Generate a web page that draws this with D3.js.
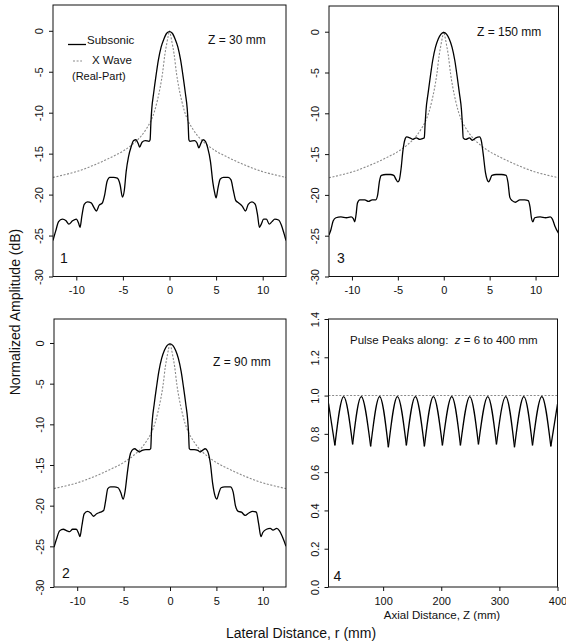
<!DOCTYPE html>
<html><head><meta charset="utf-8">
<script src="https://cdn.jsdelivr.net/npm/d3@7"></script>
<style>
body{margin:0;background:#fff}
svg{display:block}
text{font-family:"Liberation Sans",Arial,Helvetica,sans-serif;fill:#111;white-space:pre}
</style>
</head><body>
<svg id="c" width="566" height="641"></svg>
<script>
// ---------------- DATA ----------------
const lateralTicks = [-10, -5, 0, 5, 10];
const dbTicks = [0, -5, -10, -15, -20, -25, -30];
const axialTicks = [100, 200, 300, 400];
const ampTicks = [0, 0.2, 0.4, 0.6, 0.8, 1.0, 1.2, 1.4];

const panelLabels = ["1", "2", "3", "4"];
const depthLabels = ["Z = 30 mm", "Z = 90 mm", "Z = 150 mm"];

// X wave (real part), same in panels 1-3
const xWaveR  = [-12.5,-11,-10,-9,-8,-7,-6,-5,-4,-3.5,-3,-2.5,-2,-1.6,-1.3,-1.0,-0.75,-0.5,-0.3,-0.15,0,
                  0.15,0.3,0.5,0.75,1.0,1.3,1.6,2,2.5,3,3.5,4,5,6,7,8,9,10,11,12.5];
const xWaveDb = [-17.9,-17.5,-17.2,-16.8,-16.35,-15.85,-15.3,-14.7,-13.9,-13.4,-12.8,-12.0,-11.0,-9.8,-8.5,-6.9,-5.2,-2.9,-1.6,-0.7,0,
                 -0.7,-1.6,-2.9,-5.2,-6.9,-8.5,-9.8,-11.0,-12.0,-12.8,-13.4,-13.9,-14.7,-15.3,-15.85,-16.35,-16.8,-17.2,-17.5,-17.9];

// Subsonic, Z = 30 mm
const sub30R  = [-12.5,-12.2,-11.9,-11.5,-11.1,-10.8,-10.4,-10.0,-9.75,-9.6,-9.4,-9.15,-8.8,-8.4,-8.1,-7.85,-7.55,-7.2,-6.95,-6.7,-6.4,-6.0,-5.6,-5.3,-5.05,-4.85,-4.65,-4.4,-4.1,-3.85,-3.6,-3.35,-3.2,-2.95,-2.6,-2.2,-2.08,-2.0,-1.9,-1.7,-1.45,-1.2,-0.9,-0.6,-0.3,0,
                 0.3,0.6,0.9,1.2,1.45,1.7,1.9,2.0,2.08,2.2,2.7,2.95,3.15,3.35,3.6,3.85,4.1,4.4,4.65,4.85,5.0,5.2,5.45,5.8,6.3,6.6,6.85,7.1,7.4,7.8,8.15,8.45,8.85,9.2,9.45,9.65,9.85,10.1,10.4,10.7,11.0,11.3,11.7,12.0,12.3,12.5];
const sub30Db = [-25.6,-24.4,-23.3,-23.0,-23.2,-23.6,-23.2,-23.0,-23.5,-24.0,-22.6,-21.2,-20.9,-21.0,-21.6,-22.0,-21.3,-21.0,-20.0,-18.4,-17.9,-17.9,-18.0,-18.8,-20.3,-19.5,-17.2,-15.4,-14.1,-13.4,-13.3,-13.8,-14.2,-13.6,-13.4,-13.5,-13.3,-11.3,-9.5,-7.6,-5.5,-3.6,-2.0,-1.0,-0.3,-0.1,
                 -0.3,-1.0,-2.0,-3.6,-5.5,-7.6,-9.5,-11.3,-13.3,-13.5,-13.4,-13.7,-14.3,-13.8,-13.3,-13.5,-14.3,-16.0,-18.5,-19.8,-20.4,-19.2,-18.1,-17.9,-17.9,-18.2,-19.5,-20.7,-21.0,-21.4,-22.0,-21.2,-20.9,-21.2,-22.5,-24.0,-23.6,-23.0,-23.0,-23.6,-23.3,-23.0,-23.1,-23.7,-24.8,-25.6];

// Subsonic, Z = 90 mm
const sub90R  = [-12.5,-12.2,-11.9,-11.5,-11.1,-10.8,-10.5,-10.1,-9.85,-9.7,-9.5,-9.25,-8.9,-8.55,-8.25,-7.9,-7.5,-7.15,-6.95,-6.7,-6.4,-6.0,-5.6,-5.3,-5.05,-4.85,-4.6,-4.35,-4.1,-3.8,-3.55,-3.3,-3.0,-2.6,-2.2,-2.08,-2.0,-1.9,-1.7,-1.45,-1.2,-0.9,-0.6,-0.3,0,
                 0.3,0.6,0.9,1.2,1.45,1.7,1.9,2.0,2.08,2.2,2.6,3.0,3.25,3.5,3.8,4.05,4.35,4.6,4.85,5.05,5.25,5.5,5.9,6.5,6.8,7.05,7.35,7.7,8.1,8.5,8.9,9.3,9.55,9.8,10.0,10.4,10.8,11.1,11.5,11.8,12.1,12.5];
const sub90Db = [-25.1,-24.0,-23.1,-22.9,-23.1,-23.2,-22.9,-22.9,-23.4,-23.8,-22.5,-21.0,-20.7,-20.9,-21.3,-21.0,-20.8,-20.6,-19.5,-17.9,-17.7,-17.7,-17.8,-18.4,-19.2,-18.3,-16.0,-14.0,-13.2,-13.0,-13.2,-13.4,-13.2,-13.1,-13.1,-13.0,-11.0,-9.4,-7.5,-5.4,-3.5,-1.9,-0.9,-0.3,-0.1,
                 -0.3,-0.9,-1.9,-3.5,-5.4,-7.5,-9.4,-11.0,-13.0,-13.1,-13.1,-13.2,-13.4,-13.2,-13.0,-13.3,-14.8,-17.3,-18.8,-19.2,-18.5,-17.8,-17.7,-17.7,-18.3,-20.0,-20.7,-20.8,-21.2,-20.9,-20.7,-20.8,-22.2,-23.8,-23.3,-22.9,-22.8,-23.0,-22.8,-23.1,-23.8,-25.0];

// Subsonic, Z = 150 mm
const sub150R  = [-12.5,-12.3,-12.05,-11.75,-11.2,-10.6,-10.1,-9.85,-9.7,-9.55,-9.4,-9.15,-8.6,-8.2,-7.8,-7.4,-7.2,-7.0,-6.8,-6.3,-5.8,-5.45,-5.2,-5.0,-4.85,-4.65,-4.45,-4.25,-4.05,-3.7,-3.35,-3.0,-2.6,-2.3,-2.12,-2.03,-1.93,-1.7,-1.45,-1.2,-0.9,-0.6,-0.3,0,
                  0.3,0.6,0.9,1.2,1.45,1.7,1.93,2.03,2.12,2.4,2.8,3.1,3.5,3.9,4.1,4.3,4.55,4.75,4.9,5.05,5.25,5.7,6.3,6.8,7.0,7.2,7.45,7.8,8.3,8.8,9.2,9.4,9.55,9.7,9.9,10.5,11.1,11.6,11.85,12.1,12.5];
const sub150Db = [-24.9,-24.3,-23.2,-22.8,-22.7,-22.8,-22.7,-22.9,-23.3,-22.4,-21.0,-20.6,-20.6,-20.8,-20.6,-20.6,-20.0,-18.3,-17.6,-17.5,-17.5,-17.6,-18.1,-18.4,-18.2,-16.8,-14.6,-13.3,-12.9,-13.0,-13.2,-13.0,-13.2,-13.1,-13.0,-11.3,-9.6,-7.5,-5.4,-3.5,-1.9,-0.9,-0.3,-0.1,
                  -0.3,-0.9,-1.9,-3.5,-5.4,-7.5,-9.6,-11.3,-13.0,-13.2,-13.0,-13.3,-13.0,-12.9,-13.4,-15.0,-17.3,-18.2,-18.4,-18.1,-17.6,-17.5,-17.5,-17.6,-18.5,-20.3,-20.7,-20.9,-20.6,-20.6,-20.7,-21.5,-22.8,-23.3,-22.8,-22.7,-22.8,-22.7,-23.0,-23.8,-24.7];

// Pulse peaks along z = 6 to 400 mm
const pulseTroughZ   = [17, 47.5, 78.5, 109, 140, 171, 202, 233, 264, 295, 326, 357, 388.5];
const pulseTroughAmp = [0.74, 0.745, 0.735, 0.73, 0.74, 0.735, 0.74, 0.74, 0.745, 0.745, 0.73, 0.74, 0.735];
const pulsePeakZ     = [32, 62.5, 94, 124.5, 155.5, 186.5, 218, 249, 280, 311, 342, 373];
const pulsePeakAmp   = [0.995, 0.995, 0.995, 0.995, 0.995, 0.995, 0.995, 0.995, 0.995, 0.995, 0.995, 0.995];
const pulseEdgeZ     = [6, 400];
const pulseEdgeAmp   = [0.96, 0.955];
const xWaveAxialZ    = [6, 400];
const xWaveAxialAmp  = [1.0, 1.0];

// ---------------- DRAWING ----------------
const svg = d3.select("#c");
const DOT = {stroke: "#8a8a8a", dash: "2,1.6", w: 1.1};
const fmtDb = d => String(d);
const fmtAmp = d => d.toFixed(1);

let clipId = 0;
function panel(c) {
  const x = d3.scaleLinear().domain(c.xDomain).range([c.left, c.right]);
  const y = d3.scaleLinear().domain(c.yDomain).range([c.bottom, c.top]);
  const g = svg.append("g");
  const xa = g.append("g").attr("transform", `translate(0,${c.bottom})`)
    .call(d3.axisBottom(x).tickValues(c.xTicks).tickFormat(c.xFmt).tickSize(4).tickSizeOuter(0).tickPadding(6));
  const ya = g.append("g").attr("transform", `translate(${c.left},0)`)
    .call(d3.axisLeft(y).tickValues(c.yTicks).tickFormat(c.yFmt).tickSize(4).tickSizeOuter(0));
  [xa, ya].forEach(a => {
    a.select(".domain").remove();
    a.selectAll("line").attr("stroke", "#111");
    a.selectAll("text").attr("font-size", 11).attr("font-family", '"Liberation Sans",Arial,sans-serif').attr("fill", "#111");
  });
  ya.selectAll("text")
    .attr("transform", "rotate(-90)")
    .attr("x", 0).attr("y", -10).attr("dy", null)
    .attr("text-anchor", "middle");
  const id = "clip" + (clipId++);
  svg.append("clipPath").attr("id", id).append("rect")
    .attr("x", c.left).attr("y", c.top).attr("width", c.right - c.left).attr("height", c.bottom - c.top);
  const plot = g.append("g").attr("clip-path", `url(#${id})`);
  g.append("rect").attr("x", c.left).attr("y", c.top)
    .attr("width", c.right - c.left).attr("height", c.bottom - c.top)
    .attr("fill", "none").attr("stroke", "#111").attr("stroke-width", 1);
  return {g, plot, x, y};
}

function drawLateral(p, subR, subDb) {
  const line = d3.line().x(d => p.x(d[0])).y(d => p.y(d[1])).curve(d3.curveMonotoneX);
  p.plot.append("path").datum(d3.zip(xWaveR, xWaveDb)).attr("d", line)
    .attr("fill", "none").attr("stroke", DOT.stroke).attr("stroke-width", DOT.w).attr("stroke-dasharray", DOT.dash);
  p.plot.append("path").datum(d3.zip(subR, subDb)).attr("d", line)
    .attr("fill", "none").attr("stroke", "#000").attr("stroke-width", 1.3).attr("stroke-linejoin", "round");
}

function txt(x, y, s, size, anchor) {
  return svg.append("text").attr("x", x).attr("y", y).attr("font-size", size)
    .attr("text-anchor", anchor || "start").text(s);
}

const latCfg = {xDomain: [-12.5, 12.5], yDomain: [-30, 3.15], xTicks: lateralTicks, yTicks: dbTicks, xFmt: fmtDb, yFmt: fmtDb};

const p1 = panel(Object.assign({left: 53, right: 286, top: 5, bottom: 276.5}, latCfg));
drawLateral(p1, sub30R, sub30Db);
const p3 = panel(Object.assign({left: 329, right: 558.5, top: 6, bottom: 276.5}, latCfg));
drawLateral(p3, sub150R, sub150Db);
const p2 = panel(Object.assign({left: 54, right: 286, top: 319, bottom: 587}, latCfg, {yDomain: [-30, 2.95]}));
drawLateral(p2, sub90R, sub90Db);
const p4 = panel({left: 328.5, right: 557.5, top: 319, bottom: 587, xDomain: [6, 400], yDomain: [0, 1.4],
  xTicks: axialTicks, yTicks: ampTicks, xFmt: d => String(d), yFmt: fmtAmp});
p4.plot.append("path").datum(d3.zip(xWaveAxialZ, xWaveAxialAmp))
  .attr("d", d3.line().x(d => p4.x(d[0])).y(d => p4.y(d[1])))
  .attr("fill", "none").attr("stroke", DOT.stroke).attr("stroke-width", DOT.w).attr("stroke-dasharray", DOT.dash);
{
  const arch = d3.line().x(d => p4.x(d[0])).y(d => p4.y(d[1])).curve(d3.curveNatural);
  const segs = [];
  segs.push([[pulseEdgeZ[0], pulseEdgeAmp[0]], [pulseTroughZ[0], pulseTroughAmp[0]]]);
  for (let i = 0; i < pulsePeakZ.length; i++) {
    segs.push([[pulseTroughZ[i], pulseTroughAmp[i]], [pulsePeakZ[i], pulsePeakAmp[i]], [pulseTroughZ[i + 1], pulseTroughAmp[i + 1]]]);
  }
  const last = pulseTroughZ.length - 1;
  segs.push([[pulseTroughZ[last], pulseTroughAmp[last]], [pulseEdgeZ[1], pulseEdgeAmp[1]]]);
  p4.plot.selectAll("path.arch").data(segs).join("path").attr("class", "arch")
    .attr("d", arch).attr("fill", "none").attr("stroke", "#000").attr("stroke-width", 1.3);
}

// legend (panel 1)
svg.append("line").attr("x1", 68).attr("x2", 86).attr("y1", 44.5).attr("y2", 44.5).attr("stroke", "#000").attr("stroke-width", 1.3);
txt(87, 44, "Subsonic", 11.5);
svg.append("line").attr("x1", 73).attr("x2", 82).attr("y1", 61).attr("y2", 61)
  .attr("stroke", DOT.stroke).attr("stroke-width", DOT.w).attr("stroke-dasharray", DOT.dash);
txt(92, 64, "X Wave", 11.5);
txt(72, 80, "(Real-Part)", 11);

txt(208, 44, depthLabels[0], 12);
txt(213, 366, depthLabels[1], 12);
txt(477, 36, depthLabels[2], 12);
const pp = txt(350, 344, "", 11.5);
pp.append("tspan").text("Pulse Peaks along:\u00a0\u00a0");
pp.append("tspan").attr("font-style", "italic").text("z");
pp.append("tspan").text(" = 6 to 400 mm");

txt(64, 263, panelLabels[0], 14, "middle");
txt(66, 578, panelLabels[1], 14, "middle");
txt(341, 263, panelLabels[2], 14, "middle");
txt(337.5, 581, panelLabels[3], 14, "middle");

txt(442, 619, "Axial Distance, Z (mm)", 11.5, "middle");
txt(301, 638, "Lateral Distance, r (mm)", 14, "middle");
svg.append("text").attr("transform", "translate(20,312) rotate(-90)")
  .attr("text-anchor", "middle").attr("font-size", 14).text("Normalized Amplitude (dB)");
</script>
</body></html>
